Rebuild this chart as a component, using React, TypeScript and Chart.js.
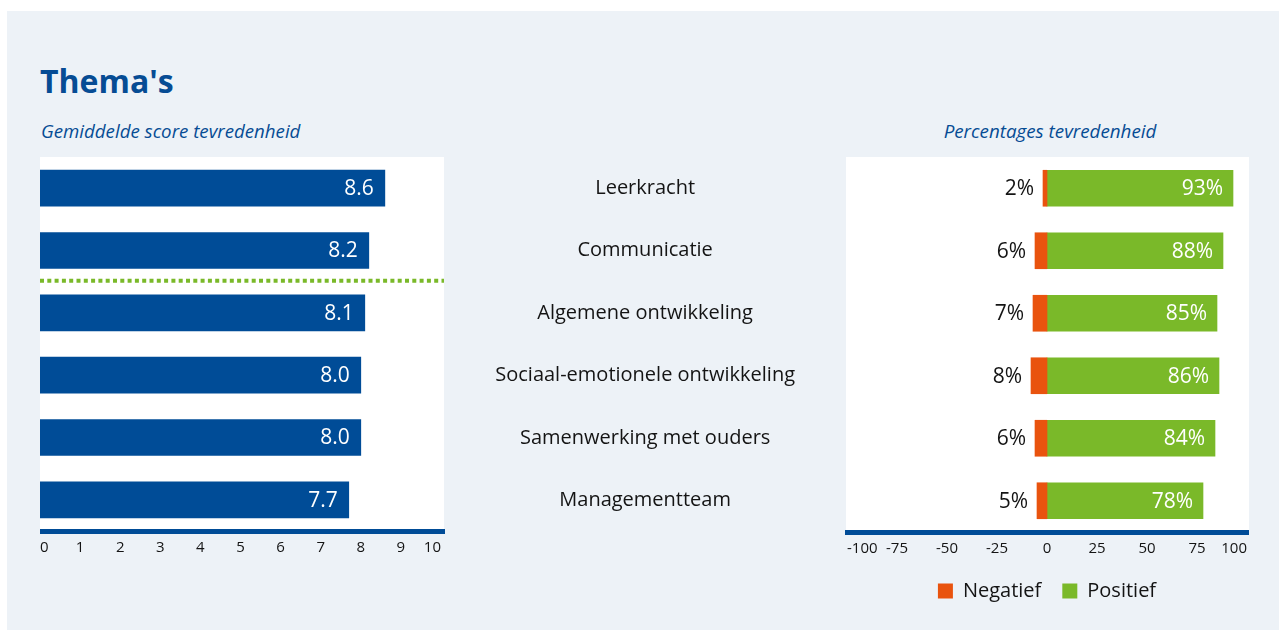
import React, { useEffect, useRef } from "react";
import { Chart, registerables } from "chart.js";

Chart.register(...registerables);

// ---- data ----
const categories = [
  "Leerkracht",
  "Communicatie",
  "Algemene ontwikkeling",
  "Sociaal-emotionele ontwikkeling",
  "Samenwerking met ouders",
  "Managementteam",
];
const scores = [8.6, 8.2, 8.1, 8.0, 8.0, 7.7];
const negatief = [2, 6, 7, 8, 6, 5];
const positief = [93, 88, 85, 86, 84, 78];
const scoreMin = 0;
const scoreMax = 10;
const scoreStep = 1;
const pctMin = -100;
const pctMax = 100;
const pctStep = 25;
const separatorAfterIndex = 1; // dashed line between 2nd and 3rd theme

// ---- style ----
const FONT = "'Open Sans', sans-serif";
const BG = "#edf2f7";
const BLUE = "#004c97";
const TITLE_BLUE = "#064c94";
const GREEN = "#7ab929";
const ORANGE = "#e9530e";
const TEXT = "#141414";

const leftDecor = {
  id: "leftDecor",
  beforeDatasetsDraw(chart: any) {
    const { ctx, chartArea } = chart;
    const { left, right, top, bottom } = chartArea;
    ctx.save();
    ctx.fillStyle = "#ffffff";
    ctx.fillRect(left, top, right - left + 3, bottom - top);
    ctx.restore();
  },
  afterDatasetsDraw(chart: any) {
    const { ctx, chartArea, scales } = chart;
    const { left, right, bottom } = chartArea;
    ctx.save();
    // separator
    const ys = scales.y;
    const yy =
      (ys.getPixelForValue(separatorAfterIndex) + ys.getPixelForValue(separatorAfterIndex + 1)) / 2 - 1;
    ctx.strokeStyle = GREEN;
    ctx.lineWidth = 4;
    ctx.setLineDash([4, 3.3]);
    ctx.beginPath();
    ctx.moveTo(left, yy);
    ctx.lineTo(right + 3, yy);
    ctx.stroke();
    ctx.setLineDash([]);
    // axis line
    ctx.fillStyle = BLUE;
    ctx.fillRect(left, bottom - 2, right - left + 4, 5);
    // value labels
    const meta = chart.getDatasetMeta(0);
    ctx.font = `21px ${FONT}`;
    ctx.fillStyle = "#ffffff";
    ctx.textAlign = "right";
    ctx.textBaseline = "middle";
    meta.data.forEach((el: any, i: number) => {
      ctx.fillText(scores[i].toFixed(1), el.x - 11, el.y + 1);
    });
    ctx.restore();
  },
};

const rightDecor = {
  id: "rightDecor",
  beforeDatasetsDraw(chart: any) {
    const { ctx, chartArea } = chart;
    const { left, right, top, bottom } = chartArea;
    ctx.save();
    ctx.fillStyle = "#ffffff";
    ctx.fillRect(left - 1, top, right - left + 3, bottom - top);
    ctx.restore();
  },
  afterDatasetsDraw(chart: any) {
    const { ctx, chartArea } = chart;
    const { left, right, bottom } = chartArea;
    ctx.save();
    ctx.fillStyle = BLUE;
    ctx.fillRect(left - 2, bottom - 2, right - left + 4, 5);
    ctx.font = `21px ${FONT}`;
    ctx.textBaseline = "middle";
    ctx.textAlign = "right";
    const negMeta = chart.getDatasetMeta(0);
    ctx.fillStyle = TEXT;
    negMeta.data.forEach((el: any, i: number) => {
      ctx.fillText(`${negatief[i]}%`, el.x - 9, el.y + 1);
    });
    const posMeta = chart.getDatasetMeta(1);
    ctx.fillStyle = "#ffffff";
    posMeta.data.forEach((el: any, i: number) => {
      ctx.fillText(`${positief[i]}%`, el.x - 10, el.y + 1);
    });
    ctx.restore();
  },
};

export default function App() {
  const leftRef = useRef<HTMLCanvasElement>(null);
  const rightRef = useRef<HTMLCanvasElement>(null);

  useEffect(() => {
    Chart.defaults.font.family = FONT;
    const tickFont = { family: FONT, size: 15 };

    const c1 = new Chart(leftRef.current as HTMLCanvasElement, {
      type: "bar",
      data: {
        labels: categories,
        datasets: [
          {
            label: "Gemiddelde score",
            data: scores,
            backgroundColor: BLUE,
            borderWidth: 0,
            barThickness: 36,
          },
        ],
      },
      options: {
        indexAxis: "y",
        animation: false,
        responsive: false,
        layout: { padding: { left: 10, right: 9, top: 7, bottom: 0 } },
        scales: {
          x: {
            min: scoreMin,
            max: scoreMax,
            ticks: { stepSize: scoreStep, align: "inner", padding: 8, color: TEXT, font: tickFont },
            grid: { display: false, drawTicks: false },
            border: { display: false },
            afterFit: (s: any) => {
              s.height = 39;
            },
          },
          y: { display: false, grid: { display: false } },
        },
        plugins: { legend: { display: false }, tooltip: { enabled: false } },
      } as any,
      plugins: [leftDecor],
    });

    const c2 = new Chart(rightRef.current as HTMLCanvasElement, {
      type: "bar",
      data: {
        labels: categories,
        datasets: [
          {
            label: "Negatief",
            data: negatief.map((v) => -v),
            backgroundColor: ORANGE,
            borderWidth: 0,
            barThickness: 36,
          },
          {
            label: "Positief",
            data: positief,
            backgroundColor: GREEN,
            borderWidth: 0,
            barThickness: 36,
          },
        ],
      },
      options: {
        indexAxis: "y",
        animation: false,
        responsive: false,
        layout: { padding: { left: 0, right: 32, top: 7, bottom: 19 } },
        scales: {
          x: {
            stacked: true,
            min: pctMin,
            max: pctMax,
            ticks: { stepSize: pctStep, align: "inner", padding: 8, color: TEXT, font: tickFont },
            grid: { display: false, drawTicks: false },
            border: { display: false },
            afterFit: (s: any) => {
              s.height = 28;
            },
          },
          y: {
            stacked: true,
            grid: { display: false, drawTicks: false },
            border: { display: false },
            ticks: { crossAlign: "center", padding: 52, color: TEXT, font: { family: FONT, size: 20 } },
            afterFit: (s: any) => {
              s.width = 397;
              s.paddingTop = 0;
              s.paddingBottom = 0;
            },
          },
        },
        plugins: {
          legend: {
            position: "bottom",
            fullSize: false,
            labels: {
              boxWidth: 15,
              boxHeight: 15,
              padding: 21,
              color: TEXT,
              font: { family: FONT, size: 20 },
            },
          },
          tooltip: { enabled: false },
        },
      } as any,
      plugins: [rightDecor],
    });

    return () => {
      c1.destroy();
      c2.destroy();
    };
  }, []);

  return (
    <div
      style={{
        position: "absolute",
        left: 0,
        top: 0,
        width: 1279,
        height: 630,
        background: "#ffffff",
        fontFamily: FONT,
        overflow: "hidden",
      }}
    >
      <div style={{ position: "absolute", left: 7, top: 11, width: 1272, height: 619, background: BG }} />
      <div
        style={{
          position: "absolute",
          left: 40,
          top: 65,
          fontSize: 32,
          lineHeight: "32px",
          fontWeight: 700,
          color: TITLE_BLUE,
          whiteSpace: "nowrap",
        }}
      >
        Thema's
      </div>
      <div
        style={{
          position: "absolute",
          left: 41,
          top: 120,
          fontSize: 18.7,
          lineHeight: "22px",
          fontStyle: "italic",
          color: TITLE_BLUE,
          whiteSpace: "nowrap",
        }}
      >
        Gemiddelde score tevredenheid
      </div>
      <div
        style={{
          position: "absolute",
          left: 850,
          width: 400,
          top: 120,
          fontSize: 18.8,
          lineHeight: "22px",
          fontStyle: "italic",
          color: TITLE_BLUE,
          textAlign: "center",
          whiteSpace: "nowrap",
        }}
      >
        Percentages tevredenheid
      </div>
      <canvas
        ref={leftRef}
        width={420}
        height={420}
        style={{ position: "absolute", left: 30, top: 150, width: 420, height: 420 }}
      />
      <canvas
        ref={rightRef}
        width={829}
        height={480}
        style={{ position: "absolute", left: 450, top: 150, width: 829, height: 480 }}
      />
    </div>
  );
}
